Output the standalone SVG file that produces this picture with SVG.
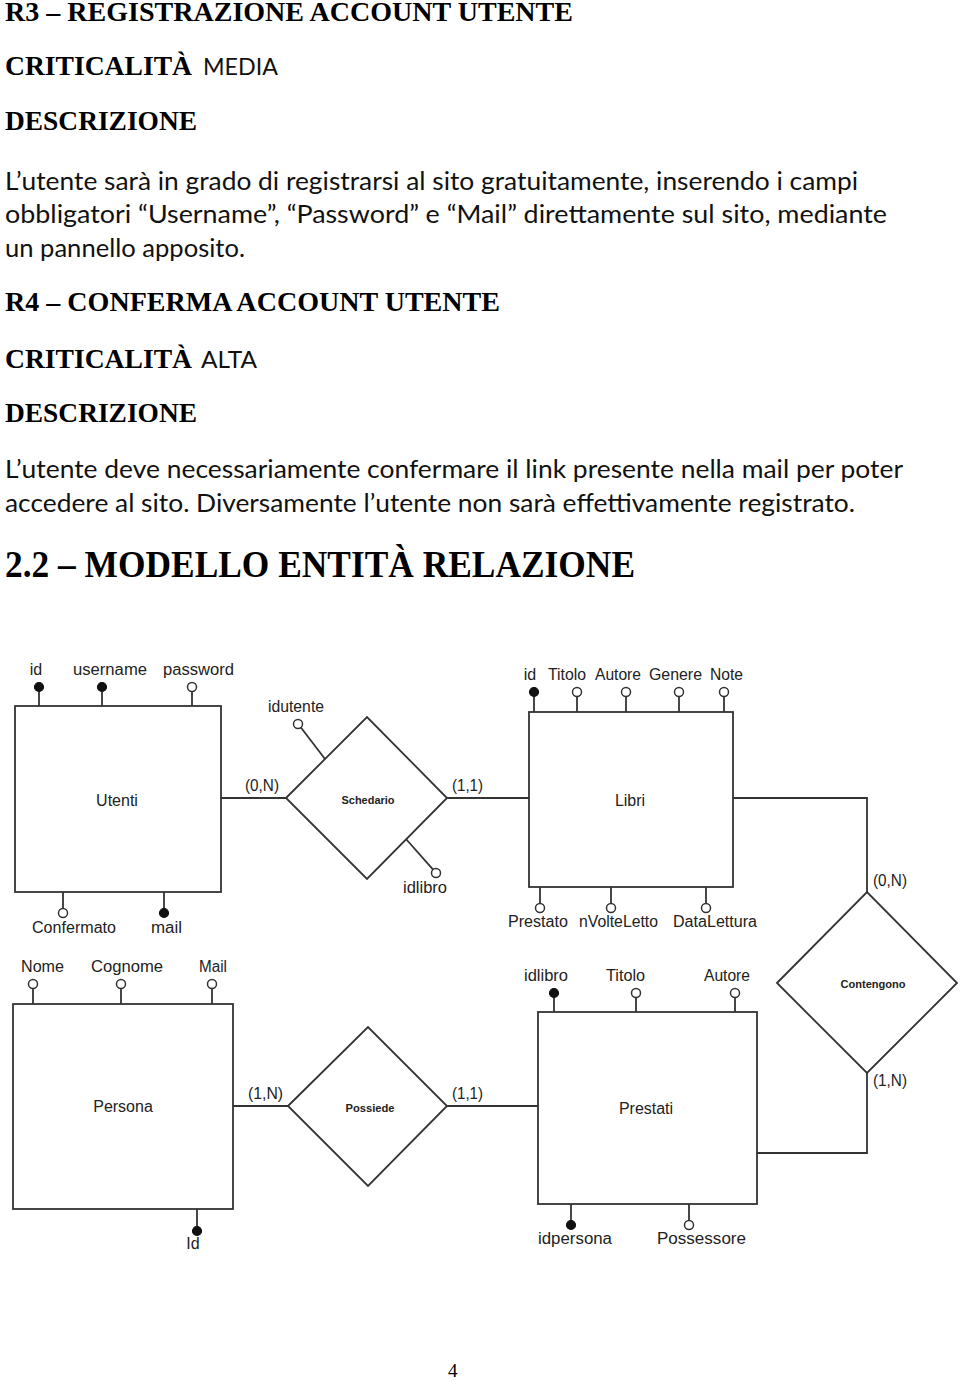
<svg xmlns="http://www.w3.org/2000/svg" width="960" height="1381" viewBox="0 0 960 1381">
<style>
.h{font-family:"Liberation Serif","Times New Roman",serif;font-weight:bold;font-size:28px;fill:#000}
.h2{font-family:"Liberation Serif","Times New Roman",serif;font-weight:bold;font-size:38px;fill:#000}
.b{font-family:Lato,"Open Sans",sans-serif;font-size:25px;fill:#111}
.bs{font-family:Lato,"Open Sans",sans-serif;font-size:23px;fill:#111}
.pg{font-family:"Liberation Serif","Times New Roman",serif;font-size:19px;fill:#000}
.ent{fill:#fff;stroke:#333;stroke-width:1.8}
.ln{fill:none;stroke:#333;stroke-width:1.8}
.k{fill:#111;stroke:#111;stroke-width:1.2}
.o{fill:#fff;stroke:#333;stroke-width:1.5}
.t{font-family:"Liberation Sans",Arial,sans-serif;font-size:16px;fill:#222;text-anchor:middle}
.rt{font-family:"Liberation Sans",Arial,sans-serif;font-size:11px;font-weight:bold;fill:#222;text-anchor:middle}
</style>
<rect width="960" height="1381" fill="#fff"/>

<g id="text-r3">
<text class="h" x="5" y="21" textLength="568" lengthAdjust="spacingAndGlyphs">R3 – REGISTRAZIONE ACCOUNT UTENTE</text>
<text class="h" x="5" y="75" textLength="187" lengthAdjust="spacingAndGlyphs">CRITICALITÀ</text>
<text class="bs" x="203" y="75" textLength="75" lengthAdjust="spacingAndGlyphs">MEDIA</text>
<text class="h" x="5" y="130" textLength="192" lengthAdjust="spacingAndGlyphs">DESCRIZIONE</text>
<text class="b" x="5" y="190" textLength="853" lengthAdjust="spacingAndGlyphs">L’utente sarà in grado di registrarsi al sito gratuitamente, inserendo i campi</text>
<text class="b" x="5" y="223" textLength="882" lengthAdjust="spacingAndGlyphs">obbligatori “Username”, “Password” e “Mail” direttamente sul sito, mediante</text>
<text class="b" x="5" y="257" textLength="240" lengthAdjust="spacingAndGlyphs">un pannello apposito.</text>
</g>

<g id="text-r4">
<text class="h" x="5" y="311" textLength="495" lengthAdjust="spacingAndGlyphs">R4 – CONFERMA ACCOUNT UTENTE</text>
<text class="h" x="5" y="368" textLength="187" lengthAdjust="spacingAndGlyphs">CRITICALITÀ</text>
<text class="bs" x="201" y="368" textLength="56" lengthAdjust="spacingAndGlyphs">ALTA</text>
<text class="h" x="5" y="422" textLength="192" lengthAdjust="spacingAndGlyphs">DESCRIZIONE</text>
<text class="b" x="5" y="478" textLength="898" lengthAdjust="spacingAndGlyphs">L’utente deve necessariamente confermare il link presente nella mail per poter</text>
<text class="b" x="5" y="512" textLength="850" lengthAdjust="spacingAndGlyphs">accedere al sito. Diversamente l’utente non sarà effettivamente registrato.</text>
<text class="h2" x="5" y="577" textLength="630" lengthAdjust="spacingAndGlyphs">2.2 – MODELLO ENTITÀ RELAZIONE</text>
</g>

<g id="connectors">
<line class="ln" x1="221" y1="798" x2="286" y2="798"/>
<line class="ln" x1="447" y1="798" x2="529" y2="798"/>
<polyline class="ln" points="733,798 867,798 867,892"/>
<polyline class="ln" points="867,1073 867,1153 757,1153"/>
<line class="ln" x1="233" y1="1106" x2="288" y2="1106"/>
<line class="ln" x1="447" y1="1106" x2="538" y2="1106"/>
<text class="t" x="262" y="791" textLength="34" lengthAdjust="spacingAndGlyphs">(0,N)</text>
<text class="t" x="467.5" y="791" textLength="31" lengthAdjust="spacingAndGlyphs">(1,1)</text>
<text class="t" x="890" y="886" textLength="34" lengthAdjust="spacingAndGlyphs">(0,N)</text>
<text class="t" x="890" y="1086" textLength="34" lengthAdjust="spacingAndGlyphs">(1,N)</text>
<text class="t" x="265.5" y="1099" textLength="35" lengthAdjust="spacingAndGlyphs">(1,N)</text>
<text class="t" x="467.5" y="1099" textLength="31" lengthAdjust="spacingAndGlyphs">(1,1)</text>
</g>

<g id="utenti">
<rect class="ent" x="15" y="706" width="206" height="186"/>
<text class="t" x="117" y="806">Utenti</text>
<line class="ln" x1="39" y1="691" x2="39" y2="706"/><circle class="k" cx="39" cy="687" r="4.5"/>
<line class="ln" x1="102" y1="691" x2="102" y2="706"/><circle class="k" cx="102" cy="687" r="4.5"/>
<line class="ln" x1="192" y1="691.5" x2="192" y2="706"/><circle class="o" cx="192" cy="687" r="4.5"/>
<text class="t" x="36" y="675">id</text>
<text class="t" x="110" y="675" textLength="74" lengthAdjust="spacingAndGlyphs">username</text>
<text class="t" x="198.5" y="675" textLength="71" lengthAdjust="spacingAndGlyphs">password</text>
<line class="ln" x1="63" y1="892" x2="63" y2="908.5"/><circle class="o" cx="63" cy="913" r="4.5"/>
<line class="ln" x1="164" y1="892" x2="164" y2="909"/><circle class="k" cx="164" cy="913" r="4.5"/>
<text class="t" x="74" y="933" textLength="84" lengthAdjust="spacingAndGlyphs">Confermato</text>
<text class="t" x="166.5" y="933" textLength="31" lengthAdjust="spacingAndGlyphs">mail</text>
</g>

<g id="schedario">
<polygon class="ent" points="286,798 367,717 447,798 367,879"/>
<text class="rt" x="368" y="804" textLength="53" lengthAdjust="spacingAndGlyphs">Schedario</text>
<line class="ln" x1="300.9" y1="727.5" x2="325" y2="759"/><circle class="o" cx="298" cy="724" r="4.5"/>
<line class="ln" x1="406" y1="839" x2="433.1" y2="869.6"/><circle class="o" cx="436" cy="873" r="4.5"/>
<text class="t" x="296" y="712" textLength="56" lengthAdjust="spacingAndGlyphs">idutente</text>
<text class="t" x="425" y="893" textLength="44" lengthAdjust="spacingAndGlyphs">idlibro</text>
</g>

<g id="libri">
<rect class="ent" x="529" y="712" width="204" height="175"/>
<text class="t" x="630" y="806">Libri</text>
<line class="ln" x1="534" y1="696" x2="534" y2="712"/><circle class="k" cx="534" cy="692" r="4.5"/>
<line class="ln" x1="577" y1="696.5" x2="577" y2="712"/><circle class="o" cx="577" cy="692" r="4.5"/>
<line class="ln" x1="626" y1="696.5" x2="626" y2="712"/><circle class="o" cx="626" cy="692" r="4.5"/>
<line class="ln" x1="679" y1="696.5" x2="679" y2="712"/><circle class="o" cx="679" cy="692" r="4.5"/>
<line class="ln" x1="724" y1="696.5" x2="724" y2="712"/><circle class="o" cx="724" cy="692" r="4.5"/>
<text class="t" x="530" y="680">id</text>
<text class="t" x="567" y="680" textLength="38" lengthAdjust="spacingAndGlyphs">Titolo</text>
<text class="t" x="618" y="680" textLength="46" lengthAdjust="spacingAndGlyphs">Autore</text>
<text class="t" x="675.5" y="680" textLength="53" lengthAdjust="spacingAndGlyphs">Genere</text>
<text class="t" x="726.5" y="680" textLength="33" lengthAdjust="spacingAndGlyphs">Note</text>
<line class="ln" x1="540" y1="887" x2="540" y2="903.5"/><circle class="o" cx="540" cy="908" r="4.5"/>
<line class="ln" x1="611" y1="887" x2="611" y2="903.5"/><circle class="o" cx="611" cy="908" r="4.5"/>
<line class="ln" x1="706" y1="887" x2="706" y2="903.5"/><circle class="o" cx="706" cy="908" r="4.5"/>
<text class="t" x="538" y="927" textLength="60" lengthAdjust="spacingAndGlyphs">Prestato</text>
<text class="t" x="618.5" y="927" textLength="79" lengthAdjust="spacingAndGlyphs">nVolteLetto</text>
<text class="t" x="715" y="927" textLength="84" lengthAdjust="spacingAndGlyphs">DataLettura</text>
</g>

<g id="contengono">
<polygon class="ent" points="777,983 867,892 957,983 867,1073"/>
<text class="rt" x="873" y="988" textLength="65" lengthAdjust="spacingAndGlyphs">Contengono</text>
</g>

<g id="persona">
<rect class="ent" x="13" y="1004" width="220" height="205"/>
<text class="t" x="123" y="1112">Persona</text>
<line class="ln" x1="33" y1="988.5" x2="33" y2="1004"/><circle class="o" cx="33" cy="984" r="4.5"/>
<line class="ln" x1="121" y1="988.5" x2="121" y2="1004"/><circle class="o" cx="121" cy="984" r="4.5"/>
<line class="ln" x1="212" y1="988.5" x2="212" y2="1004"/><circle class="o" cx="212" cy="984" r="4.5"/>
<text class="t" x="42.5" y="972" textLength="43" lengthAdjust="spacingAndGlyphs">Nome</text>
<text class="t" x="127" y="972" textLength="72" lengthAdjust="spacingAndGlyphs">Cognome</text>
<text class="t" x="213" y="972" textLength="28" lengthAdjust="spacingAndGlyphs">Mail</text>
<line class="ln" x1="197" y1="1209" x2="197" y2="1227"/><circle class="k" cx="197" cy="1231" r="4.5"/>
<text class="t" x="193" y="1249">Id</text>
</g>

<g id="possiede">
<polygon class="ent" points="288,1106 368,1027 447,1106 368,1186"/>
<text class="rt" x="370" y="1112" textLength="49" lengthAdjust="spacingAndGlyphs">Possiede</text>
</g>

<g id="prestati">
<rect class="ent" x="538" y="1012" width="219" height="192"/>
<text class="t" x="646" y="1114">Prestati</text>
<line class="ln" x1="554" y1="997" x2="554" y2="1012"/><circle class="k" cx="554" cy="993" r="4.5"/>
<line class="ln" x1="636" y1="997.5" x2="636" y2="1012"/><circle class="o" cx="636" cy="993" r="4.5"/>
<line class="ln" x1="735" y1="997.5" x2="735" y2="1012"/><circle class="o" cx="735" cy="993" r="4.5"/>
<text class="t" x="546" y="981" textLength="44" lengthAdjust="spacingAndGlyphs">idlibro</text>
<text class="t" x="625.5" y="981" textLength="39" lengthAdjust="spacingAndGlyphs">Titolo</text>
<text class="t" x="727" y="981" textLength="46" lengthAdjust="spacingAndGlyphs">Autore</text>
<line class="ln" x1="571" y1="1204" x2="571" y2="1221"/><circle class="k" cx="571" cy="1225" r="4.5"/>
<line class="ln" x1="689" y1="1204" x2="689" y2="1220.5"/><circle class="o" cx="689" cy="1225" r="4.5"/>
<text class="t" x="575" y="1244" textLength="74" lengthAdjust="spacingAndGlyphs">idpersona</text>
<text class="t" x="701.5" y="1244" textLength="89" lengthAdjust="spacingAndGlyphs">Possessore</text>
</g>

<g id="page-number">
<text class="pg" x="448" y="1377">4</text>
</g>
</svg>
